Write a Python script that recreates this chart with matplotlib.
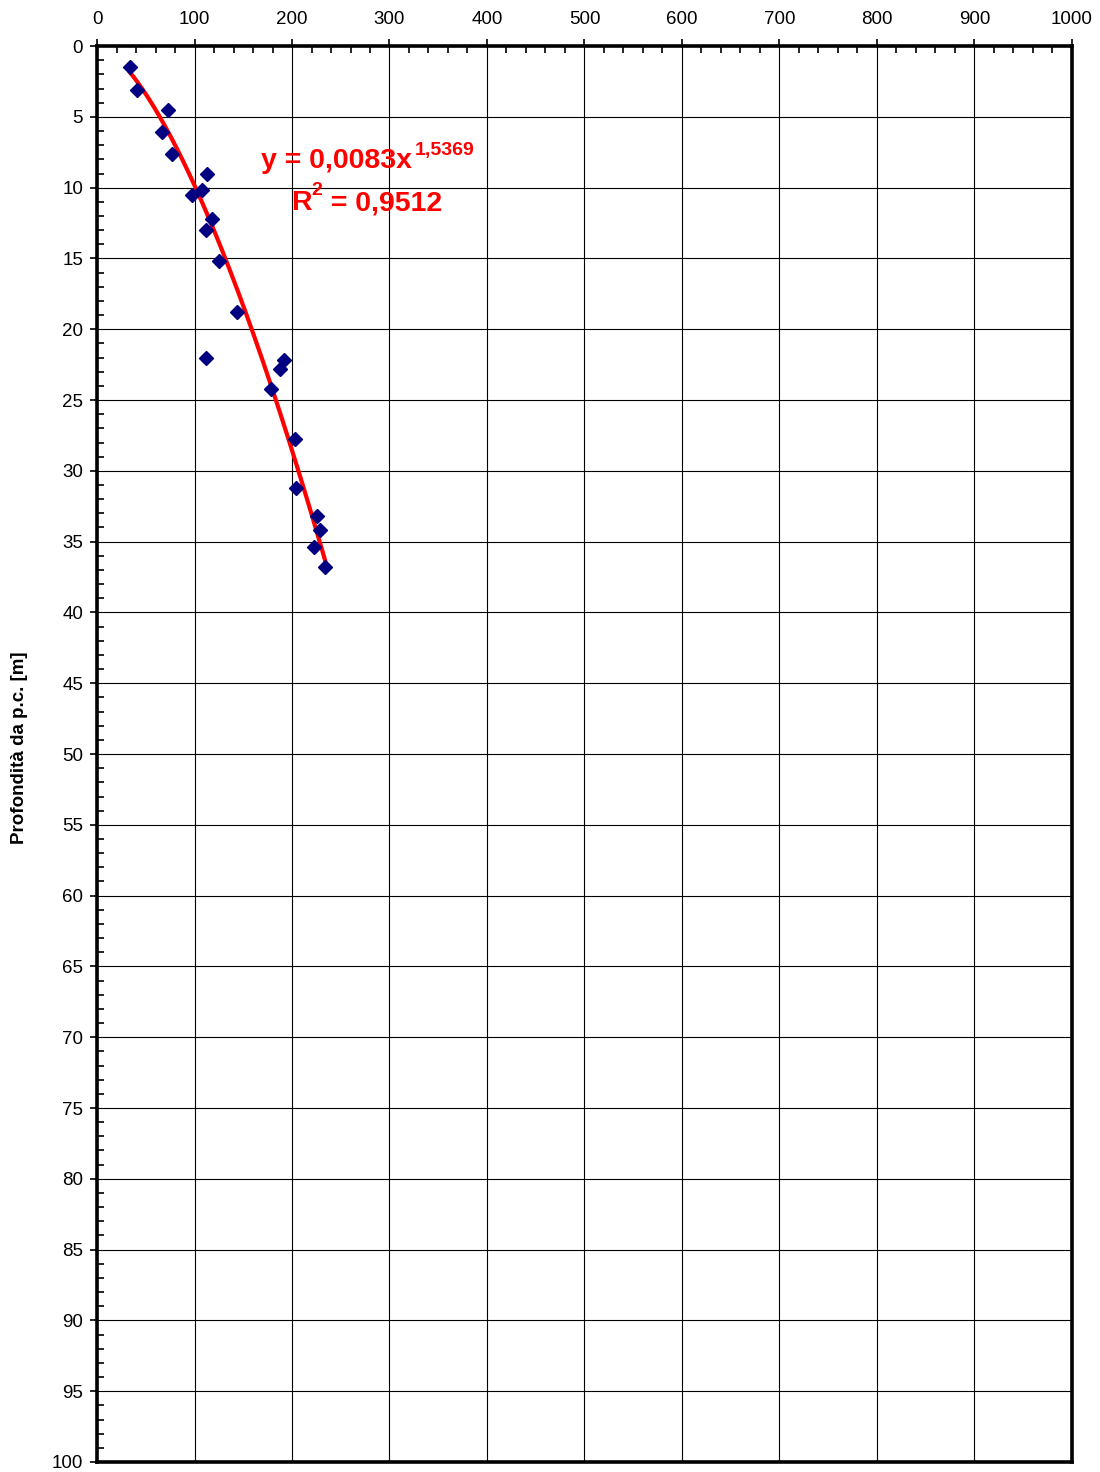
import numpy as np
import matplotlib
matplotlib.use("Agg")
import matplotlib.pyplot as plt
from matplotlib.ticker import MultipleLocator

plt.rcParams['font.family'] = ['Liberation Sans', 'DejaVu Sans']

# measured points (x value, depth in m)
xv = [34, 41, 73, 67, 77, 113, 108, 97, 118, 112, 125, 144,
      112, 192, 188, 178, 203, 204, 226, 229, 223, 234]
depth = [1.5, 3.1, 4.5, 6.05, 7.6, 9.0, 10.2, 10.5, 12.2, 13.0, 15.2, 18.8,
         22.0, 22.2, 22.8, 24.2, 27.75, 31.2, 33.2, 34.2, 35.35, 36.8]

# power trend line shown on the chart
coef_a = 0.0083
coef_b = 1.5369
r2_txt = "0,9512"

fig = plt.figure(figsize=(11, 14.72), dpi=100)
ax = fig.add_axes([0.0882, 0.0068, 0.8863, 0.9619])

xx = np.linspace(min(xv), max(xv), 200)
ax.plot(xx, coef_a * xx ** coef_b, color='red', lw=3, zorder=3)
ax.plot(xv, depth, 'D', color='#000080', markersize=7, zorder=4, ls='none')

ax.set_xlim(0, 1000)
ax.set_ylim(100, 0)
ax.xaxis.tick_top()
ax.xaxis.set_major_locator(MultipleLocator(100))
ax.xaxis.set_minor_locator(MultipleLocator(20))
ax.yaxis.set_major_locator(MultipleLocator(5))
ax.yaxis.set_minor_locator(MultipleLocator(1))
ax.tick_params(which='major', direction='out', length=5, width=1.2,
               labelsize=13.5, pad=5)
ax.tick_params(axis='x', which='major', pad=8)
ax.tick_params(which='minor', direction='in', length=5, width=1.2)
ax.tick_params(axis='x', which='both', top=True, bottom=False)
ax.tick_params(axis='y', which='both', left=True, right=False)
ax.grid(True, which='major', color='black', lw=0.8)
for s in ax.spines.values():
    s.set_linewidth(2.6)

fig.text(20 / 1100, 1 - 748 / 1472, "Profondità da p.c. [m]", fontsize=13.5,
         fontweight='bold', rotation=90, ha='center', va='center')

ax.text(168.7, 8.6, "y = 0,0083x", color='red', fontsize=20.5,
        fontweight='bold', ha='left', va='baseline', zorder=5)
ax.text(326, 7.7, "1,5369", color='red', fontsize=14,
        fontweight='bold', ha='left', va='baseline', zorder=5)
ax.text(199.5, 11.6, "R", color='red', fontsize=20.5,
        fontweight='bold', ha='left', va='baseline', zorder=5)
ax.text(220, 10.5, "2", color='red', fontsize=14,
        fontweight='bold', ha='left', va='baseline', zorder=5)
ax.text(232, 11.6, " = " + r2_txt, color='red', fontsize=20.5,
        fontweight='bold', ha='left', va='baseline', zorder=5)

fig.savefig("out.png", dpi=100)
